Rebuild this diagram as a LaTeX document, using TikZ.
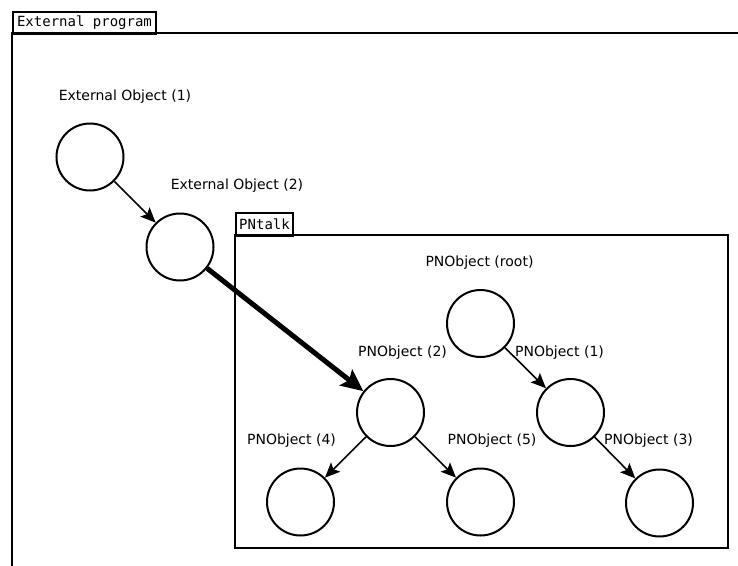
\documentclass[tikz,border=0pt]{standalone}
\usepackage{fontspec}
\setmainfont{DejaVu Sans}
\setmonofont{DejaVu Sans Mono}
\usetikzlibrary{arrows.meta}
\begin{document}
\begin{tikzpicture}[x=1pt,y=-1pt,
  obj/.style={circle,draw,line width=2pt,minimum size=67pt,inner sep=0pt},
  lbl/.style={font=\fontsize{14}{16}\selectfont,inner sep=0pt},
  tabbox/.style={draw,line width=2pt,font=\ttfamily\fontsize{14}{16}\selectfont,
    inner sep=0pt,anchor=north west,minimum height=22pt},
  frame/.style={line width=2pt},
  link/.style={line width=1.6pt,-{Stealth[length=15pt,width=13pt,inset=3pt]}},
  biglink/.style={line width=5pt,-{Stealth[length=22pt,width=20pt,inset=4pt]}}]
  \useasboundingbox (0,0) rectangle (738,565);
  \clip (0,0) rectangle (738,565);

  % outer program frame (open to the right and bottom)
  \draw[frame] (745,33) -- (12,33) -- (12,575);
  \node[tabbox,minimum width=143pt] (exttab) at (12,11) {External program};

  % PNtalk frame
  \draw[frame] (235,235) rectangle (728,548);
  \node[tabbox,minimum width=57pt,minimum height=23pt] (pntab) at (235,212) {PNtalk};

  % external objects
  \node[obj] (e1) at (90,157) {};
  \node[obj] (e2) at (180,247) {};
  \node[lbl] (le1) at (125,97) {External Object (1)};
  \node[lbl] (le2) at (237,186) {External Object (2)};

  % PNtalk objects
  \node[obj] (root) at (480.5,323.5) {};
  \node[obj] (p2) at (390.5,412.5) {};
  \node[obj] (p1) at (570.5,412.5) {};
  \node[obj] (p4) at (300.5,502) {};
  \node[obj] (p5) at (480.5,502) {};
  \node[obj] (p3) at (659.5,503) {};

  \node[lbl] (lroot) at (479.5,263) {PNObject (root)};
  \node[lbl] (lp2) at (402.5,353) {PNObject (2)};
  \node[lbl] (lp1) at (559.5,353) {PNObject (1)};
  \node[lbl] (lp4) at (291.5,441) {PNObject (4)};
  \node[lbl] (lp5) at (492,441) {PNObject (5)};
  \node[lbl] (lp3) at (648.5,441) {PNObject (3)};

  % references
  \draw[link] (e1) -- (e2);
  \draw[biglink] (e2) -- (p2);
  \draw[link] (root) -- (p1);
  \draw[link] (p1) -- (p3);
  \draw[link] (p2) -- (p4);
  \draw[link] (p2) -- (p5);
\end{tikzpicture}
\end{document}
